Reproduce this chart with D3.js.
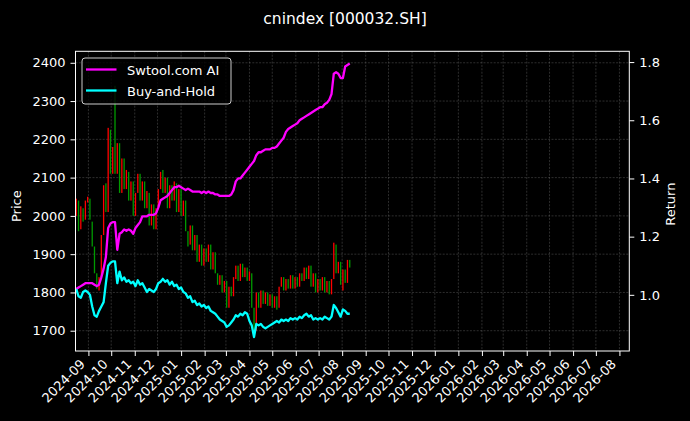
<!DOCTYPE html>
<html>
<head>
<meta charset="utf-8">
<script src="https://cdn.jsdelivr.net/npm/d3@7"></script>
<style>
  html, body { margin: 0; padding: 0; background: #000; }
  svg { display: block; font-family: "DejaVu Sans", sans-serif; }
</style>
</head>
<body>
<svg id="chart" width="690" height="421"></svg>
<script>
// ---------------- DATA ----------------
const title = "cnindex [000032.SH]";
const seriesNames = ["Swtool.com AI", "Buy-and-Hold"];
const firstDate = "2024-08-16";   // first sample; samples every 3 calendar days
const stepDays = 3;
const axisStart = "2024-08-15";
const axisEnd = "2026-08-14";
const priceTicks = [1700, 1800, 1900, 2000, 2100, 2200, 2300, 2400];
const returnTicks = [1.0, 1.2, 1.4, 1.6, 1.8];
const priceDomain = [1647, 2430];
const returnDomain = [0.807, 1.837];

const openPrices = [
  2000,2040,1965,2020,1990,2035,2045,1985,1920,1850,
  1805,1840,1950,2085,2010,2225,2110,2340,2110,2190,
  2060,2150,2070,2115,2040,2090,2000,2060,2110,2040,
  2090,2020,2060,1975,2030,1965,2020,2070,2120,2060,
  2100,2020,2080,2040,2085,2010,2070,2000,2040,1960,
  1925,1975,1910,1950,1880,1925,1870,1915,1880,1925,
  1860,1905,1850,1820,1845,1800,1830,1760,1815,1790,
  1835,1870,1830,1875,1840,1865,1830,1850,1760,1700,
  1800,1760,1805,1770,1800,1765,1795,1760,1790,1760,
  1815,1840,1805,1835,1810,1845,1810,1840,1815,1850,
  1830,1865,1835,1870,1815,1850,1800,1835,1805,1840,
  1800,1830,1795,1835,1925,1850,1880,1805,1860,1825,
  1885
];
const closePrices = [
  2045,1960,2025,1985,2040,2050,1990,1920,1850,1810,
  1840,1950,2080,2010,2230,2110,2180,2110,2190,2060,
  2150,2070,2120,2040,2090,2000,2060,2110,2040,2090,
  2020,2065,1975,2030,1965,2020,2070,2115,2060,2100,
  2020,2080,2040,2090,2010,2070,2000,2040,1960,1920,
  1975,1910,1950,1880,1925,1870,1915,1880,1925,1860,
  1905,1850,1820,1845,1800,1830,1760,1815,1790,1840,
  1870,1830,1875,1840,1865,1830,1855,1760,1695,1800,
  1760,1805,1770,1800,1765,1795,1760,1790,1755,1815,
  1840,1805,1835,1810,1845,1810,1840,1815,1850,1830,
  1865,1835,1870,1815,1850,1800,1835,1805,1840,1800,
  1830,1795,1835,1930,1850,1880,1820,1860,1825,1885,
  1865
];
const strategyReturn = [
  1.020,1.025,1.030,1.035,1.040,1.040,1.040,1.040,1.035,1.030,
  1.035,1.060,1.090,1.130,1.230,1.245,1.250,1.250,1.155,1.210,
  1.215,1.225,1.220,1.225,1.220,1.210,1.230,1.240,1.250,1.270,
  1.270,1.270,1.275,1.275,1.275,1.280,1.300,1.325,1.330,1.335,
  1.340,1.350,1.360,1.370,1.370,1.375,1.370,1.365,1.360,1.365,
  1.360,1.355,1.355,1.355,1.355,1.350,1.355,1.350,1.355,1.350,
  1.350,1.345,1.345,1.340,1.340,1.340,1.340,1.340,1.345,1.360,
  1.390,1.400,1.400,1.410,1.420,1.430,1.440,1.450,1.460,1.480,
  1.490,1.490,1.495,1.500,1.500,1.500,1.505,1.505,1.510,1.520,
  1.530,1.540,1.560,1.570,1.575,1.580,1.585,1.590,1.600,1.605,
  1.610,1.615,1.620,1.625,1.630,1.635,1.640,1.645,1.645,1.655,
  1.660,1.670,1.690,1.760,1.765,1.760,1.745,1.745,1.785,1.790,
  1.795
];
const buyHoldReturn = [
  1.020,0.995,0.990,1.010,1.015,1.010,1.000,0.960,0.930,0.925,
  0.945,0.960,0.975,1.040,1.100,1.110,1.115,1.115,1.040,1.080,
  1.050,1.060,1.045,1.050,1.040,1.045,1.030,1.050,1.035,1.040,
  1.025,1.010,1.020,1.015,1.010,1.020,1.040,1.045,1.055,1.045,
  1.050,1.035,1.045,1.030,1.035,1.020,1.025,1.010,1.005,0.990,
  0.995,0.975,0.980,0.965,0.970,0.960,0.965,0.955,0.960,0.945,
  0.940,0.935,0.925,0.915,0.910,0.905,0.890,0.895,0.905,0.915,
  0.930,0.925,0.935,0.930,0.940,0.935,0.910,0.895,0.855,0.900,
  0.895,0.900,0.890,0.885,0.890,0.895,0.900,0.905,0.910,0.905,
  0.915,0.910,0.915,0.910,0.920,0.915,0.920,0.915,0.925,0.920,
  0.930,0.935,0.925,0.930,0.915,0.920,0.915,0.920,0.915,0.925,
  0.920,0.915,0.925,0.965,0.955,0.940,0.925,0.950,0.945,0.935,
  0.935
];

// ---------------- LAYOUT ----------------
const W = 690, H = 421;
const m = { left: 75.5, right: 629.3, top: 51.3, bottom: 351 };
const parse = d3.timeParse("%Y-%m-%d");
const t0 = parse(firstDate);
const dates = closePrices.map((_, i) => d3.timeDay.offset(t0, i * stepDays));
const rows = dates.map((d, i) => ({
  date: d, open: openPrices[i], close: closePrices[i],
  strat: strategyReturn[i], bh: buyHoldReturn[i]
}));

const x = d3.scaleTime().domain([parse(axisStart), parse(axisEnd)]).range([m.left, m.right]);
const yP = d3.scaleLinear().domain(priceDomain).range([m.bottom, m.top]);
const yR = d3.scaleLinear().domain(returnDomain).range([m.bottom, m.top]);
const monthTicks = d3.timeMonth.range(new Date(2024, 8, 1), new Date(2026, 7, 2));

const svg = d3.select("#chart");
svg.append("rect").attr("width", W).attr("height", H).attr("fill", "#000");

// grid
const grid = svg.append("g").attr("stroke", "#8a8a8a").attr("stroke-opacity", 0.55)
  .attr("stroke-width", 0.6).attr("stroke-dasharray", "2,1.4");
grid.selectAll("line.v").data(monthTicks).join("line")
  .attr("x1", d => x(d)).attr("x2", d => x(d)).attr("y1", m.top).attr("y2", m.bottom);
grid.selectAll("line.h").data(priceTicks).join("line")
  .attr("y1", d => yP(d)).attr("y2", d => yP(d)).attr("x1", m.left).attr("x2", m.right);

// candles
const cw = 1.3;
svg.append("g").selectAll("rect").data(rows).join("rect")
  .attr("x", d => x(d.date) - cw / 2)
  .attr("width", cw)
  .attr("y", d => yP(Math.max(d.open, d.close)))
  .attr("height", d => Math.max(0.8, Math.abs(yP(d.open) - yP(d.close))))
  .attr("fill", d => d.close >= d.open ? "#ff0000" : "#009a00");

// return lines
const lineS = d3.line().x(d => x(d.date)).y(d => yR(d.strat));
const lineB = d3.line().x(d => x(d.date)).y(d => yR(d.bh));
svg.append("path").datum(rows).attr("d", lineS).attr("fill", "none")
  .attr("stroke", "#ff00ff").attr("stroke-width", 2.3).attr("stroke-linejoin", "round");
svg.append("path").datum(rows).attr("d", lineB).attr("fill", "none")
  .attr("stroke", "#00ffff").attr("stroke-width", 2.3).attr("stroke-linejoin", "round");

// axes
function styleAxis(g) {
  g.select(".domain").remove();
  g.selectAll(".tick line").attr("stroke", "#fff");
  g.selectAll(".tick text").attr("fill", "#fff").style("font-size", "13px")
    .style("font-family", "DejaVu Sans");
}
svg.append("g").attr("transform", `translate(${m.left},0)`)
  .call(d3.axisLeft(yP).tickValues(priceTicks).tickSize(5).tickPadding(5).tickFormat(d3.format("d")))
  .call(styleAxis);
svg.append("g").attr("transform", `translate(${m.right},0)`)
  .call(d3.axisRight(yR).tickValues(returnTicks).tickSize(5).tickPadding(5).tickFormat(d3.format(".1f")))
  .call(styleAxis);
const xg = svg.append("g").attr("transform", `translate(0,${m.bottom})`)
  .call(d3.axisBottom(x).tickValues(monthTicks).tickSize(5).tickFormat(d3.timeFormat("%Y-%m")))
  .call(styleAxis);
xg.selectAll(".tick text").attr("y", 0).attr("dy", 0).attr("text-anchor", "end")
  .attr("transform", "translate(-3,14) rotate(-45)");

// spines
svg.append("rect").attr("x", m.left).attr("y", m.top)
  .attr("width", m.right - m.left).attr("height", m.bottom - m.top)
  .attr("fill", "none").attr("stroke", "#fff").attr("stroke-width", 1);

// axis labels
svg.append("text").attr("transform", `translate(21,${(m.top + m.bottom) / 2 + 5}) rotate(-90)`)
  .attr("text-anchor", "middle").attr("fill", "#fff").style("font-size", "13px").text("Price");
svg.append("text").attr("transform", `translate(675,${(m.top + m.bottom) / 2 + 3}) rotate(-90)`)
  .attr("text-anchor", "middle").attr("fill", "#fff").style("font-size", "13px").text("Return");

// title
svg.append("text").attr("x", W / 2).attr("y", 24).attr("text-anchor", "middle")
  .attr("fill", "#fff").style("font-size", "15.5px").text(title);

// legend
const lg = svg.append("g");
lg.append("rect").attr("x", 82).attr("y", 58).attr("width", 149).attr("height", 46).attr("rx", 3)
  .attr("fill", "#000").attr("fill-opacity", 0.8).attr("stroke", "#cccccc").attr("stroke-width", 1);
const legendColors = ["#ff00ff", "#00ffff"];
seriesNames.forEach((name, i) => {
  const yy = 69.5 + i * 21;
  lg.append("line").attr("x1", 86).attr("x2", 116.5).attr("y1", yy).attr("y2", yy)
    .attr("stroke", legendColors[i]).attr("stroke-width", 2.3);
  lg.append("text").attr("x", 127).attr("y", yy + 5).attr("fill", "#fff")
    .style("font-size", "13px").text(name);
});
</script>
</body>
</html>
